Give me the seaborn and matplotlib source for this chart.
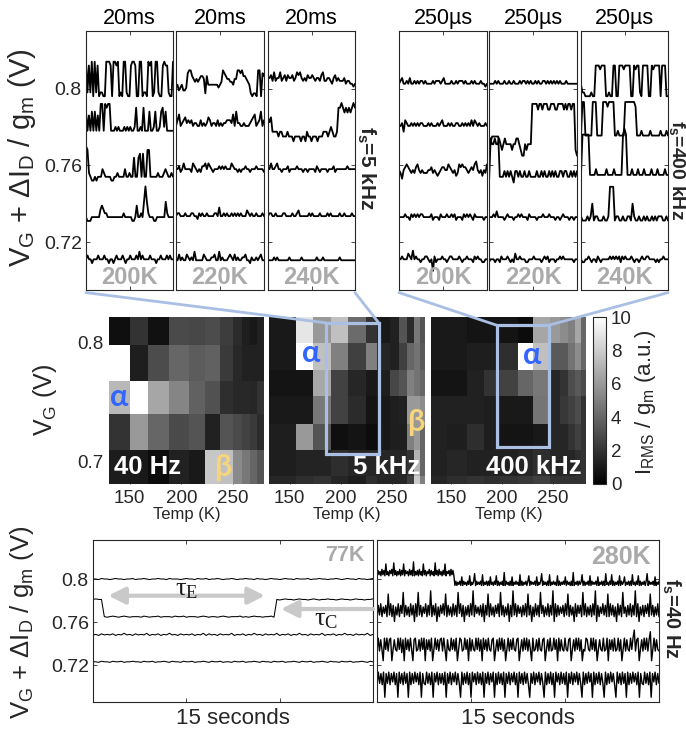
import numpy as np
import matplotlib
matplotlib.use("Agg")
import matplotlib.pyplot as plt
import seaborn as sns
from matplotlib.patches import Rectangle, ConnectionPatch

# ---------------------------------------------------------------
# traces: (offset V, step V, one base-36 char per sample)
# ---------------------------------------------------------------
# fs = 5 kHz, 20 ms windows
tr5k_200K = [
    (0.796, 0.002, "9181909180110099980998901099100899800990110989019910089881009"),
    (0.776, 0.002, "615161615188187881112121112121211271121711161126112672611111"),
    (0.752, 0.002, "98210010111321111001121111311211611671711881111121112321121"),
    (0.731, 0.002, "1000111111343221111111111121111100141121595211100111111521111"),
    (0.709, 0.002, "1211011121112110110121112101121112131211112111011211121211"),
]
tr5k_220K = [
    (0.796, 0.0015, "3423422389976565677617444444434598766554669989776541011099087"),
    (0.776, 0.0015, "3573456454534433534346534435343445554738443343334567345835"),
    (0.752, 0.0015, "4453464444365434355646543444545454446544343445443444544443"),
    (0.729, 0.0015, "3443334333443324343343333443633434334343434333543433433343"),
    (0.706, 0.0015, "3353433543436333335433344533634333454353433445332433434533"),
]
tr5k_240K = [
    (0.798, 0.0015, "5564745574564655645767545465565455467445543564544453443323"),
    (0.770, 0.0025, "65633332332223222122221221322122212223332343223889878787898"),
    (0.752, 0.0015, "4464456443444534444544434434444354344443444534444444544444"),
    (0.729, 0.0015, "3443343333443333433453333334343333433334343333343343333433"),
    (0.706, 0.0015, "3333434333333343333333433333333343334333333333343333333333"),
]
# fs = 400 kHz, 250 us windows
tr400k_200K = [
    (0.798, 0.0015, "3453343533434344343333434443453333433434443433343433343323"),
    (0.776, 0.0015, "3341543343434344333434333434533343433443343434353543433343"),
    (0.750, 0.0015, "5425676545467545444556454345665576545347676654565785453547"),
    (0.727, 0.0015, "4444544354545455444445344435444544545344435454543544444344"),
    (0.705, 0.0015, "4454446547454434455434053444544345544445434454443545443344"),
]
tr400k_220K = [
    (0.798, 0.0015, "3333434333433433433343443434334343344343434343433343333333"),
    (0.765, 0.003, "33223223212322221223321002122299998998999889998899998989989910"),
    (0.748, 0.003, "1899999222323232133232232232222322323223232322332332232323"),
    (0.727, 0.0015, "4445464444345444344545444354444344454445444344345444344344"),
    (0.705, 0.0015, "3444344354445434364454443344454444345453444344545444444344"),
]
tr400k_240K = [
    (0.794, 0.002, "422111121199989991121199119998999911989921999911989999199911"),
    (0.773, 0.0025, "188111118881111888788881121111888888871112111112111111211121"),
    (0.752, 0.003, "18888811112111111211112111118981112111211121111211121111211"),
    (0.729, 0.0022, "2111212512211121129991221121122152112112121121212221121"),
    (0.705, 0.0015, "4334454344354344444545454535454445434434544554444343445444"),
]
# fs = 40 Hz, 15 s windows
tr40_77K = [
    (0.7985, 0.0005, "3324332343323342334323343324333234332433423343233432334332433234332343324333423343323343234332433234"),
    (0.764, 0.0005, "yzyy2123212321222132122312221322312221232122123212223121232212231"
                    "yxyzyyxyzyyxyzyxyyzyyxyzyyxyzyyxyyz"),
    (0.7465, 0.0005, "3425343524363425343624352436342534352436253425343624352436342534362435243634253436243524363425343624"),
    (0.7215, 0.0005, "3324332433423343324334233432433243342334324334233243342334324332433423343243342334324332433423343243"),
]
tr40_280K = [
    (0.792, 0.001, "bgcfbhcgbmcfbgdhbncgbfchbgcmbgdfbhcgbobfcgbhcfbmcgbfdhbgcfbncgbhcfbgcmbfdgbhcgb"
                   "2625362a2635263b2536d2635362c2536262a35263b2625362e2635262a2536352c26253626b2635362a2536d2635262c"
                   "2536352b2625363a2635262e25362635c2625362b2635362a2536262d35263c2625362b2635a2536262c35263b26253626"
                   "d2635362a2536"),
    (0.7575, 0.0015, "5c6d5b7c5j6d5c2b6d5c7k5c6b5d6c2d5k6c5b7d5c6l5c6d2b5c7d6j5c6b5d6c5k7d5c2b6c5d6l5c7b6c5d2c6j5d6b5c7d"
                     "5k6c5b6d2c5l6d5c7b5c6d5j6c2b5d6c5k7c5b6d5c6l2d5c6b7c5d6j5c6b2d5c7c5k6d5b6c5d6l2c5b7d6c5j5d6c5b2d6c"
                     "5k7b5c6d5c6l5d2b6c5c7d5j6c5b6d5"),
    (0.7195, 0.0015, "9h9ga3hah9gh3aga9hah8g3hag9ha3gh9ag9hah3gag9h3ahag9gh9ha3ga9hag9h3ahg9ahag3h9ga9hah9g3hag9ha9gh3ag"
                     "9hah9g3ah9gaha9gh3ag9hah9ga3h9ag9ha9gh3ag9h9ahag3h9ga9ha9gh3ag9hah9g3a9hga9hah9g3aga9h9ah3gag9h9ah"
                     "9g3ah9ga9hahm9gh3ag9hah9gl3ah9ga9"),
    (0.6874, 0.0013, "bkcjbk2jckbjdkbj2kcjbkcj2kbjckdjbk2jcbkcjbk2jdkbjcjbk2jckbjdkbjc2kbjckbj2kdjbkcjbk2jckbjdk2jbkcjbk"
                     "2jckbjdkbj2kcjbkcjb2jckbjdkbjc2kbjckbj2kdjbkcjbk2jckbjdkbjc2kbjckdj2kbjckbjc2kbjckdjb2kcjbkcj2kbjc"
                     "kdjbk2jcbkcjbk2jdkbjc"),
]
temps_top = ["200K", "220K", "240K"]
win_5k, win_400k, win_40 = 20, 250, 15

# I_RMS / g_m maps (rows listed top -> bottom)
map40_T = [130, 150, 168, 188, 207, 223, 237, 250, 259, 266, 273, 280]
map40_V = [0.6815, 0.7104, 0.7403, 0.7683, 0.7986, 0.8218]
map40_Z = [
    [0.6, 2.0, 0.7, 2.9, 2.8, 3.0, 2.4, 1.7, 1.2, 1.0, 1.3],
    [10, 1.2, 3.0, 4.0, 3.6, 3.8, 2.3, 1.6, 1.3, 1.3, 1.3],
    [7.2, 10, 6.5, 5.2, 3.8, 3.2, 1.8, 1.6, 1.6, 1.5, 2.0],
    [2.0, 6.0, 4.0, 2.9, 3.3, 1.3, 3.3, 2.9, 2.6, 2.3, 1.7],
    [1.1, 1.0, 0.5, 1.3, 1.0, 7.8, 7.5, 5.4, 4.7, 4.0, 3.3],
]
map5k_T = [130, 156, 173, 190, 207, 225, 235, 248, 257, 264, 271, 277, 282]
map_V7 = [0.681, 0.688, 0.710, 0.732, 0.755, 0.777, 0.800, 0.822]
map5k_Z = [
    [1.0, 9.0, 6.0, 7.5, 4.2, 2.0, 1.0, 1.3, 3.3, 1.7, 4.7, 3.3],
    [1.0, 10, 7.5, 5.0, 2.5, 5.0, 1.5, 1.3, 2.5, 4.0, 4.5, 3.5],
    [0.8, 0.8, 6.6, 2.6, 1.5, 1.0, 1.2, 2.8, 3.3, 5.0, 4.5, 4.0],
    [1.0, 1.0, 4.7, 2.6, 1.7, 0.8, 1.0, 1.2, 1.3, 6.0, 6.0, 5.5],
    [1.2, 6.0, 3.3, 0.6, 0.8, 0.5, 1.0, 1.2, 1.2, 5.0, 6.0, 4.0],
    [1.2, 1.4, 1.4, 1.8, 1.5, 1.5, 1.5, 1.5, 1.5, 2.0, 7.0, 4.0],
    [1.5, 1.8, 2.0, 1.5, 1.2, 1.8, 1.5, 1.5, 1.5, 2.5, 8.0, 5.0],
]
map400k_T = [130, 146, 166, 182, 198, 216, 231, 247, 257, 265, 272, 278, 283]
map400k_Z = [
    [1.0, 1.0, 0.8, 0.8, 0.8, 0.5, 6.5, 6.0, 5.5, 5.0, 6.5, 4.0],
    [1.0, 1.0, 1.2, 1.2, 1.8, 10, 7.5, 3.5, 3.5, 4.5, 5.5, 4.0],
    [0.8, 0.8, 1.3, 2.0, 2.6, 4.0, 4.7, 1.5, 2.0, 3.0, 3.5, 3.0],
    [1.3, 1.3, 1.3, 1.2, 1.0, 1.0, 4.6, 1.5, 2.2, 2.5, 3.0, 2.0],
    [1.3, 1.2, 1.8, 1.2, 0.8, 0.8, 1.0, 1.5, 1.5, 2.0, 2.5, 2.0],
    [1.3, 1.5, 1.3, 1.3, 1.3, 1.5, 1.8, 1.5, 1.5, 1.5, 1.8, 2.0],
    [1.5, 1.8, 2.0, 1.8, 2.0, 2.2, 2.5, 2.0, 2.0, 2.0, 2.0, 2.0],
]
box5k = (186, 237, 0.7067, 0.817)
box400k = (195, 246, 0.7126, 0.815)

# ---------------------------------------------------------------
sns.set_style("ticks")
plt.rcParams["font.family"] = ["Liberation Sans", "DejaVu Sans"]
plt.rcParams["axes.linewidth"] = 0.8

W, H = 686, 730
fig = plt.figure(figsize=(W / 100, H / 100), dpi=100)
INK = "#262626"
BLUE = "#a9bfe3"
GREY = "#aaaaaa"


def rect(l, t, r, b):
    return [l / W, 1 - b / H, (r - l) / W, (b - t) / H]


def decode(base, step, codes):
    return [base + step * int(c, 36) for c in codes]


def style(ax):
    ax.tick_params(direction="in", top=True, right=True, length=3, width=0.6,
                   colors=INK, labelsize=14, pad=3)
    for s in ax.spines.values():
        s.set_color(INK)
        s.set_linewidth(0.8)


def trace_panel(ax, traces, window, ylim, lw):
    for base, step, codes in traces:
        v = decode(base, step, codes)
        t = np.linspace(0, window, len(v))
        sns.lineplot(x=t, y=v, ax=ax, color="black", lw=lw, estimator=None,
                     sort=False, legend=False)
    ax.set_xlim(0, window)
    ax.set_ylim(*ylim)
    ax.set_yticks([0.72, 0.76, 0.8])
    ax.set_yticklabels(["0.72", "0.76", "0.8"])
    ax.set_xlabel("")
    ax.set_ylabel("")
    style(ax)


# ---------------- top rows ----------------
top_sets = [
    ([(86, 173), (176, 264), (268, 355)], [tr5k_200K, tr5k_220K, tr5k_240K], win_5k, "20ms"),
    ([(399, 487), (489, 577), (581, 668)], [tr400k_200K, tr400k_220K, tr400k_240K], win_400k, "250µs"),
]
top_axes = []
for xs, sets, win, title in top_sets:
    row = []
    for i, ((l, r), tr) in enumerate(zip(xs, sets)):
        ax = fig.add_axes(rect(l, 31, r, 290))
        trace_panel(ax, tr, win, (0.695, 0.830), 1.3)
        ax.set_xticks([win / 2])
        ax.set_xticklabels([])
        if not (xs[0][0] == 86 and i == 0):
            ax.set_yticklabels([])
        ax.set_title(title, fontsize=15.5, pad=5, color="black")
        ax.text(0.5, 0.005, temps_top[i], transform=ax.transAxes, ha="center",
                va="bottom", fontsize=17, fontweight="bold", color=GREY)
        row.append(ax)
    top_axes.append(row)

fig.text(22 / W, 1 - 158 / H, r"$\mathregular{V_G}$ + $\mathregular{ΔI_D}$ / $\mathregular{g_m}$ (V)",
         rotation=90, ha="center", va="center", fontsize=21)
fig.text(366 / W, 1 - 168 / H, r"$\mathregular{f_s}$=5 kHz", rotation=-90, ha="center",
         va="center", fontsize=15, fontweight="bold")
fig.text(677 / W, 1 - 170 / H, r"$\mathregular{f_s}$=400 kHz", rotation=-90, ha="center",
         va="center", fontsize=14, fontweight="bold")

# ---------------- heat maps ----------------
maps = [
    ((109, 264), map40_T, map40_V, map40_Z, "40 Hz"),
    ((269, 425), map5k_T, map_V7, map5k_Z, "5 kHz"),
    ((431, 586), map400k_T, map_V7, map400k_Z, "400 kHz"),
]
hm_axes = []
for k, ((l, r), T, V, Z, lab) in enumerate(maps):
    ax = fig.add_axes(rect(l, 317, r, 484))
    mesh = ax.pcolormesh(T, V, np.array(Z)[::-1], cmap="gray", vmin=0, vmax=10,
                         shading="flat")
    ax.set_xlim(T[0], T[-1])
    ax.set_ylim(V[0], V[-1])
    ax.set_xticks([150, 200, 250])
    ax.set_yticks([0.7, 0.8])
    ax.set_yticklabels(["0.7", "0.8"] if k == 0 else [])
    ax.tick_params(direction="in", length=3, width=0.6, colors=INK, labelsize=13.5, pad=4)
    for s in ax.spines.values():
        s.set_visible(False)
    ax.set_xlabel("Temp (K)", fontsize=12, labelpad=0, color=INK)
    if k == 0:
        ax.text(0.03, 0.03, lab, transform=ax.transAxes, ha="left", va="bottom",
                fontsize=18.5, fontweight="bold", color="white")
    else:
        ax.text(0.97, 0.03, lab, transform=ax.transAxes, ha="right", va="bottom",
                fontsize=18.5, fontweight="bold", color="white")
    hm_axes.append(ax)

greek = dict(fontsize=22, fontweight="bold", family=["Lato", "DejaVu Sans"],
             ha="center", va="center")
hm_axes[0].text(140, 0.755, "α", color="#3366ff", **greek)
hm_axes[0].text(240, 0.696, "β", color="#f6d57c", **greek)
hm_axes[1].text(171.5, 0.7916, "α", color="#3366ff", **greek)
hm_axes[1].text(273.5, 0.733, "β", color="#f6d57c", **greek)
hm_axes[2].text(230, 0.790, "α", color="#3366ff", **greek)

fig.text(45 / W, 1 - 400 / H, r"$\mathregular{V_G}$ (V)", rotation=90, ha="center",
         va="center", fontsize=18)

cax = fig.add_axes(rect(593, 317, 606, 484))
cb = fig.colorbar(mesh, cax=cax, ticks=[0, 2, 4, 6, 8, 10])
cb.outline.set_linewidth(0.8)
cax.tick_params(direction="in", length=3, width=0.6, colors=INK, labelsize=13.5)
fig.text(645 / W, 1 - 402 / H, r"$\mathregular{I_{RMS}}$ / $\mathregular{g_m}$ (a.u.)",
         rotation=90, ha="center", va="center", fontsize=16)

# zoom boxes and connectors
for ax, (x0, x1, y0, y1), row in [(hm_axes[1], box5k, top_axes[0]), (hm_axes[2], box400k, top_axes[1])]:
    ax.add_patch(Rectangle((x0, y0), x1 - x0, y1 - y0, fill=False, ec=BLUE, lw=2.3, zorder=5))
    for src, xa, xb in [(row[0], 0, x0), (row[-1], 1, x1)]:
        con = ConnectionPatch(xyA=(xa, -0.01), coordsA=src.transAxes, xyB=(xb, y1),
                              coordsB=ax.transData, color=BLUE, lw=2, zorder=10)
        fig.add_artist(con)

# ---------------- bottom row ----------------
bot_axes = []
for (l, r), tr, lab, fs, xlab, lw in [((93, 373), tr40_77K, "77K", 15.5, 233, 0.75),
                                     ((377, 659), tr40_280K, "280K", 18, 518, 1.0)]:
    ax = fig.add_axes(rect(l, 540, r, 702))
    trace_panel(ax, tr, win_40, (0.6856, 0.8363), lw)
    ax.set_xticks([5, 10])
    ax.set_xticklabels([])
    ax.text(0.97, 0.97, lab, transform=ax.transAxes, ha="right", va="top",
            fontsize=fs, fontweight="bold", color=GREY)
    fig.text(xlab / W, 1 - 718 / H, "15 seconds", ha="center", va="center", fontsize=16)
    bot_axes.append(ax)
bot_axes[1].set_yticklabels([])

fig.text(22 / W, 1 - 622 / H, r"$\mathregular{V_G}$ + $\mathregular{ΔI_D}$ / $\mathregular{g_m}$ (V)",
         rotation=90, ha="center", va="center", fontsize=18.5)
fig.text(671 / W, 1 - 618 / H, r"$\mathregular{f_s}$=40 Hz", rotation=-90, ha="center",
         va="center", fontsize=14.5, fontweight="bold")

# capture / emission times
axb = bot_axes[0]
axb.annotate("", xy=(0.82, 0.7845), xytext=(9.21, 0.7845),
             arrowprops=dict(arrowstyle="<|-|>,head_length=0.5,head_width=0.25",
                             color="#c9c9c9", lw=3, mutation_scale=20, shrinkA=0, shrinkB=0))
axb.annotate("", xy=(10.07, 0.7721), xytext=(15, 0.7721),
             arrowprops=dict(arrowstyle="-|>,head_length=0.5,head_width=0.25",
                             color="#c9c9c9", lw=3, mutation_scale=20, shrinkA=0, shrinkB=0))
axb.text(5.0, 0.7848, r"$\mathregular{τ_E}$", ha="center", va="baseline", fontsize=19,
         family=["Liberation Serif", "DejaVu Serif"], color="#1a1a1a")
axb.text(12.5, 0.7572, r"$\mathregular{τ_C}$", ha="center", va="baseline", fontsize=19,
         family=["Liberation Serif", "DejaVu Serif"], color="#1a1a1a")

fig.savefig("out.png", dpi=100, facecolor="white")
